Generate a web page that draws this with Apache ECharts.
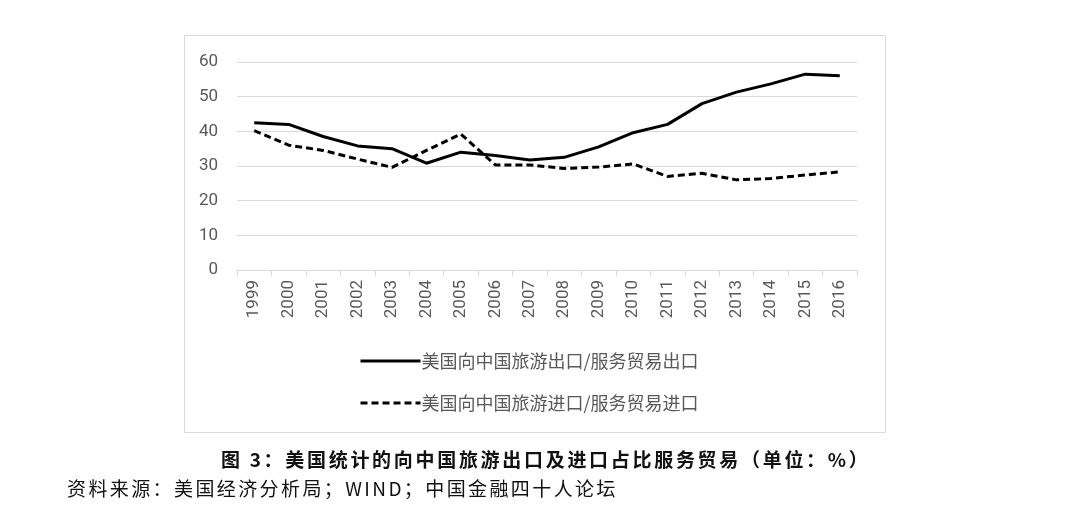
<!DOCTYPE html>
<html>
<head>
<meta charset="utf-8">
<script src="https://cdn.jsdelivr.net/npm/echarts@6/dist/echarts.min.js"></script>
<style>
  html, body { margin: 0; padding: 0; background: #fff; }
  #wrap { position: relative; width: 1080px; height: 515px; }
  #chart { width: 1080px; height: 515px; }
  .note {
    position: absolute;
    font-family: "Noto Sans CJK SC", sans-serif;
    color: #111;
    white-space: nowrap;
    line-height: 1;
  }
  #caption { left: 221px; top: 449px; font-size: 19px; font-weight: bold; letter-spacing: 2.7px; }
  #source { left: 67px; top: 478px; font-size: 19px; letter-spacing: 2.4px; }
</style>
</head>
<body>
<div id="wrap">
  <div id="chart"></div>
  <div id="caption" class="note"></div>
  <div id="source" class="note"></div>
</div>
<script>
const years = ['1999', '2000', '2001', '2002', '2003', '2004', '2005', '2006', '2007',
  '2008', '2009', '2010', '2011', '2012', '2013', '2014', '2015', '2016'];
const exportShare = [42.5, 42, 38.5, 35.8, 35, 30.8, 34, 33, 31.7, 32.5, 35.5, 39.6, 42, 48, 51.3, 53.7, 56.5, 56];
const importShare = [40.2, 36, 34.5, 32, 29.6, 34.5, 39.2, 30.3, 30.3, 29.3, 29.7, 30.6, 27, 27.9, 26, 26.4, 27.4, 28.3];
const exportName = '美国向中国旅游出口/服务贸易出口';
const importName = '美国向中国旅游进口/服务贸易进口';
const captionText = '图 3：美国统计的向中国旅游出口及进口占比服务贸易（单位：%）';
const sourceText = '资料来源：美国经济分析局；WIND；中国金融四十人论坛';

document.getElementById('caption').textContent = captionText;
document.getElementById('source').textContent = sourceText;

const cjk = '"Noto Sans CJK SC", "Noto Sans", sans-serif';
const chart = echarts.init(document.getElementById('chart'));

chart.setOption({
  animation: false,
  textStyle: { fontFamily: cjk },
  graphic: [
    {
      type: 'rect',
      shape: { x: 184.5, y: 35.5, width: 701, height: 397 },
      style: { fill: 'none', stroke: '#d9d9d9', lineWidth: 1 },
    },
  ],
  grid: { left: 237, right: 223, top: 62, bottom: 245 },
  legend: {
    orient: 'vertical',
    left: 354,
    top: 347,
    itemGap: 24,
    itemWidth: 60,
    itemHeight: 14,
    itemStyle: { opacity: 0 },
    lineStyle: { width: 3 },
    textStyle: { color: '#595959', fontSize: 18, fontFamily: cjk, padding: [0, 0, 0, -4] },
    data: [exportName, importName],
  },
  xAxis: {
    type: 'category',
    data: years,
    boundaryGap: true,
    axisLine: { lineStyle: { color: '#d9d9d9' } },
    axisTick: { show: true, length: 6, lineStyle: { color: '#d9d9d9' } },
    axisLabel: { rotate: 90, color: '#595959', fontSize: 17, margin: 10, fontFamily: 'Roboto, sans-serif' },
  },
  yAxis: {
    type: 'value',
    min: 0,
    max: 60,
    interval: 10,
    axisLine: { show: false },
    axisTick: { show: false },
    axisLabel: { color: '#595959', fontSize: 17, margin: 19, fontFamily: 'Roboto, sans-serif' },
    splitLine: { lineStyle: { color: '#d9d9d9', width: 1 } },
  },
  series: [
    {
      name: exportName,
      type: 'line',
      data: exportShare,
      symbol: 'none',
      lineStyle: { color: '#000', width: 3 },
      itemStyle: { color: '#000' },
    },
    {
      name: importName,
      type: 'line',
      data: importShare,
      symbol: 'none',
      lineStyle: { color: '#000', width: 3, type: [7, 4] },
      itemStyle: { color: '#000' },
    },
  ],
});
</script>
</body>
</html>
